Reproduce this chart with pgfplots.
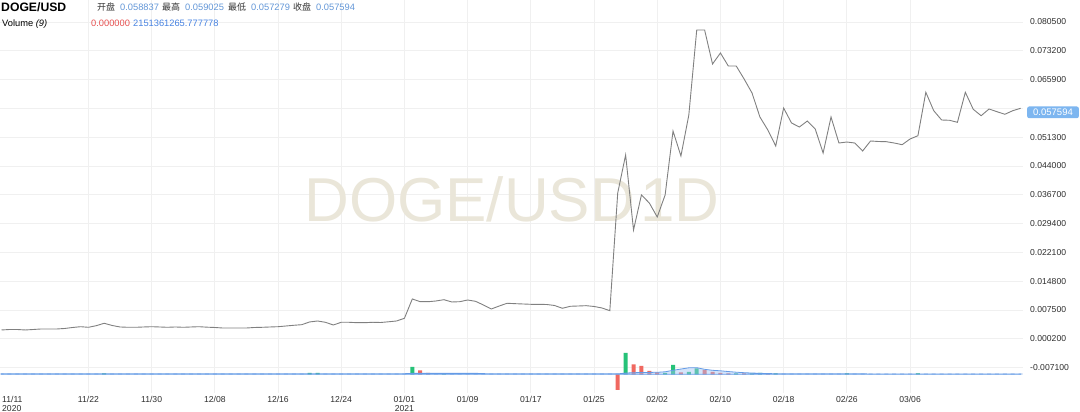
\documentclass[border=0pt]{standalone}
\usepackage{fontspec}
\setmainfont{Liberation Sans}
\newfontfamily\cjk{Noto Sans CJK SC}
\usepackage{pgfplots}
\pgfplotsset{compat=1.18}

\definecolor{priceC}{RGB}{128,128,128}
\definecolor{gridC}{RGB}{240,240,240}
\definecolor{upG}{RGB}{38,194,120}
\definecolor{dnR}{RGB}{240,104,96}
\definecolor{maBlue}{RGB}{100,155,230}
\definecolor{maFill}{RGB}{160,195,245}
\definecolor{smallB}{RGB}{130,170,225}
\definecolor{hdrBlue}{RGB}{98,150,215}
\definecolor{volBlue}{RGB}{70,130,225}
\definecolor{redT}{RGB}{230,80,80}
\definecolor{boxBlue}{RGB}{125,182,240}
\definecolor{wm}{RGB}{234,230,217}
\definecolor{tickC}{RGB}{45,45,45}
\definecolor{hdrC}{RGB}{50,50,50}

\begin{document}
\begin{tikzpicture}
% price pane
\begin{axis}[name=ax, at={(0,0)}, anchor=south west,
    scale only axis, width=1023pt, height=393pt,
    xmin=-0.19, xmax=129.3, ymin=-0.01357, ymax=0.08608,
    axis line style={draw=none}, major tick length=0pt,
    grid=major, grid style={gridC, line width=0.7pt},
    ytick={-0.0071,0.0002,0.0075,0.0148,0.0221,0.0294,0.0367,0.044,0.0513,0.0586,0.0659,0.0732,0.0805},
    % the 0.058600 label sits under the last-price box
    yticklabels={-0.007100,0.000200,0.007500,0.014800,0.022100,0.029400,0.036700,0.044000,0.051300,{},0.065900,0.073200,0.080500},
    yticklabel pos=right,
    yticklabel style={anchor=west, inner sep=0pt, xshift=7pt, text=tickC,
        font=\fontsize{8.6}{10}\selectfont},
    xtick={11,19,...,115},
    xticklabels={11/22,11/30,12/08,12/16,12/24,{01/01\\2021},01/09,01/17,01/25,02/02,02/10,02/18,02/26,03/06},
    xticklabel style={anchor=north, align=center, inner sep=0pt, yshift=-3pt, text=tickC,
        font=\fontsize{8.6}{9.5}\selectfont},
    clip mode=individual,
]
\node[font=\fontsize{62}{62}\selectfont, text=wm] at (axis cs:64.6,0.0356) {DOGE/USD\hspace{0.08em}1D};
\addplot[priceC, line width=0.9pt] coordinates {
(0,0.00241) (1,0.00253) (2,0.00253) (3,0.00241) (4,0.00253) (5,0.00266) (6,0.00266) (7,0.00266)
(8,0.00279) (9,0.00304) (10,0.00324) (11,0.00309) (12,0.00350) (13,0.00411) (14,0.00355) (15,0.00317)
(16,0.00309) (17,0.00309) (18,0.00317) (19,0.00324) (20,0.00317) (21,0.00309) (22,0.00317) (23,0.00309)
(24,0.00317) (25,0.00324) (26,0.00312) (27,0.00304) (28,0.00291) (29,0.00291) (30,0.00291) (31,0.00291)
(32,0.00304) (33,0.00309) (34,0.00317) (35,0.00324) (36,0.00342) (37,0.00360) (38,0.00375) (39,0.00444)
(40,0.00469) (41,0.00436) (42,0.00367) (43,0.00436) (44,0.00436) (45,0.00426) (46,0.00426) (47,0.00436)
(48,0.00431) (49,0.00449) (50,0.00469) (51,0.00537) (52,0.01027) (53,0.00958) (54,0.00958) (55,0.00976)
(56,0.01009) (57,0.00951) (58,0.00958) (59,0.01001) (60,0.00968) (61,0.00875) (62,0.00773) (63,0.00849)
(64,0.00918) (65,0.00908) (66,0.00900) (67,0.00892) (68,0.00892) (69,0.00887) (70,0.00862) (71,0.00791)
(72,0.00842) (73,0.00849) (74,0.00857) (75,0.00837) (76,0.00799) (77,0.00730) (78,0.03714) (79,0.04678)
(80,0.02776) (81,0.03664) (82,0.03461) (83,0.03106) (84,0.03664) (85,0.05286) (86,0.04652) (87,0.05692)
(88,0.07847) (89,0.07847) (90,0.06985) (91,0.07264) (92,0.06934) (93,0.06934) (94,0.06605) (95,0.06250)
(96,0.05641) (97,0.05312) (98,0.04906) (99,0.05869) (100,0.05489) (101,0.05388) (102,0.05540) (103,0.05337)
(104,0.04728) (105,0.05641) (106,0.04982) (107,0.05007) (108,0.04982) (109,0.04779) (110,0.05033) (111,0.05020)
(112,0.05015) (113,0.04982) (114,0.04939) (115,0.05083) (116,0.05167) (117,0.06268) (118,0.05801) (119,0.05565)
(120,0.05558) (121,0.05507) (122,0.06268) (123,0.05837) (124,0.05674) (125,0.05844) (126,0.05776) (127,0.05710)
(128,0.05801) (129,0.05862)
};
\node[fill=boxBlue, text=white, rounded corners=2pt, anchor=west, inner xsep=6pt, inner ysep=2.5pt,
    font=\fontsize{9.5}{10}\selectfont] at ([xshift=4pt]axis cs:129.3,0.057594) {0.057594};
\end{axis}
% volume pane
\begin{axis}[at={(0,0)}, anchor=south west,
    scale only axis, width=1023pt, height=393pt,
    xmin=-0.19, xmax=129.3, ymin=-37.4, ymax=748.6,
    hide axis, ticks=none, scaled ticks=false]
\addplot[ybar, bar width=4pt, bar shift=0pt, draw=none, fill=smallB] coordinates {
(0,1.4) (1,1.4) (2,1.4) (3,1.4) (4,1.4) (5,1.4) (6,1.4) (7,1.4) (8,1.4) (9,1.4)
(10,1.4) (11,1.4) (12,1.4) (13,1.4) (14,1.4) (15,1.4) (16,1.4) (17,1.4) (18,1.4) (19,1.4)
(20,1.4) (21,1.4) (22,1.4) (23,1.4) (24,1.4) (25,1.4) (26,1.4) (27,1.4) (28,1.4) (29,1.4)
(30,1.4) (31,1.4) (32,1.4) (33,1.4) (34,1.4) (35,1.4) (36,1.4) (37,1.4) (38,1.4) (39,1.4)
(40,1.4) (41,1.4) (42,1.4) (43,1.4) (44,1.4) (45,1.4) (46,1.4) (47,1.4) (48,1.4) (49,1.4)
(50,1.4) (51,1.4) (52,1.4) (53,1.4) (54,1.4) (55,1.4) (56,1.4) (57,1.4) (58,1.4) (59,1.4)
(60,1.4) (61,1.4) (62,1.4) (63,1.4) (64,1.4) (65,1.4) (66,1.4) (67,1.4) (68,1.4) (69,1.4)
(70,1.4) (71,1.4) (72,1.4) (73,1.4) (74,1.4) (75,1.4) (76,1.4) (77,1.4) (78,1.4) (79,1.4)
(80,1.4) (81,1.4) (82,1.4) (83,1.4) (84,1.4) (85,1.4) (86,1.4) (87,1.4) (88,1.4) (89,1.4)
(90,1.4) (91,1.4) (92,1.4) (93,1.4) (94,1.4) (95,1.4) (96,1.4) (97,1.4) (98,1.4) (99,1.4)
(100,1.4) (101,1.4) (102,1.4) (103,1.4) (104,1.4) (105,1.4) (106,1.4) (107,1.4) (108,1.4) (109,1.4)
(110,1.4) (111,1.4) (112,1.4) (113,1.4) (114,1.4) (115,1.4) (116,1.4) (117,1.4) (118,1.4) (119,1.4)
(120,1.4) (121,1.4) (122,1.4) (123,1.4) (124,1.4) (125,1.4) (126,1.4) (127,1.4) (128,1.4) (129,1.4)
};
\addplot[ybar, bar width=4pt, bar shift=0pt, draw=none, fill=upG] coordinates {
(13,2) (39,3) (40,3) (52,15) (56,2) (79,43) (84,3) (85,18.6) (87,5) (88,12) (93,2) (95,2) (96,3) (98,2) (107,1.8) (116,1.8)
};
\addplot[ybar, bar width=4pt, bar shift=0pt, draw=none, fill=dnR] coordinates {
(53,8) (54,3) (78,-31) (80,20) (81,17) (82,7) (83,4) (86,4) (89,8.6) (90,4.6) (91,3) (92,2) (94,1.6) (97,1.6)
};
\addplot[draw=maBlue, line width=0.8pt, fill=maFill, fill opacity=0.45] coordinates {
(0,0.8) (50,0.8) (51,1.2) (52,2) (55,2.2) (60,2) (62,0.8) (77,0.8) (78,0.8) (79,2.5) (80,3.2)
(81,3.5) (82,3.8) (83,4) (84,5) (85,8) (86,10.5) (87,13) (88,13.2) (89,10) (90,8) (91,7)
(92,5.5) (93,4.2) (94,3.2) (95,2.5) (96,2) (97,1.5) (98,1.1) (100,0.9) (109,0.8) (129,0.6)
} \closedcycle;
\end{axis}
% header
\node[anchor=base west, inner sep=0pt, font=\bfseries\fontsize{12.2}{14}\selectfont] at ([shift={(1pt,-11.7pt)}]ax.north west) {DOGE/USD};
\begin{scope}[every node/.style={anchor=base west, inner sep=0pt, font=\fontsize{9.3}{11}\selectfont}]
\node[text=hdrC, font=\cjk\fontsize{9}{11}\selectfont] at ([shift={(97pt,-10.3pt)}]ax.north west) {开盘};
\node[text=hdrBlue] at ([shift={(120pt,-10.3pt)}]ax.north west) {0.058837};
\node[text=hdrC, font=\cjk\fontsize{9}{11}\selectfont] at ([shift={(162pt,-10.3pt)}]ax.north west) {最高};
\node[text=hdrBlue] at ([shift={(185pt,-10.3pt)}]ax.north west) {0.059025};
\node[text=hdrC, font=\cjk\fontsize{9}{11}\selectfont] at ([shift={(228pt,-10.3pt)}]ax.north west) {最低};
\node[text=hdrBlue] at ([shift={(251pt,-10.3pt)}]ax.north west) {0.057279};
\node[text=hdrC, font=\cjk\fontsize{9}{11}\selectfont] at ([shift={(293pt,-10.3pt)}]ax.north west) {收盘};
\node[text=hdrBlue] at ([shift={(316pt,-10.3pt)}]ax.north west) {0.057594};
\node[text=black] at ([shift={(2pt,-27pt)}]ax.north west) {Volume \textit{(9)}};
\node[text=redT] at ([shift={(91pt,-27pt)}]ax.north west) {0.000000};
\node[text=volBlue] at ([shift={(133pt,-27pt)}]ax.north west) {2151361265.777778};
\end{scope}
\node[anchor=north west, align=left, inner sep=0pt, text=tickC, font=\fontsize{8.6}{9.5}\selectfont]
    at ([shift={(2pt,-3pt)}]ax.south west) {11/11\\2020};
\pgfresetboundingbox
\path (0,-19pt) rectangle (1080pt,393pt);
\end{tikzpicture}
\end{document}
